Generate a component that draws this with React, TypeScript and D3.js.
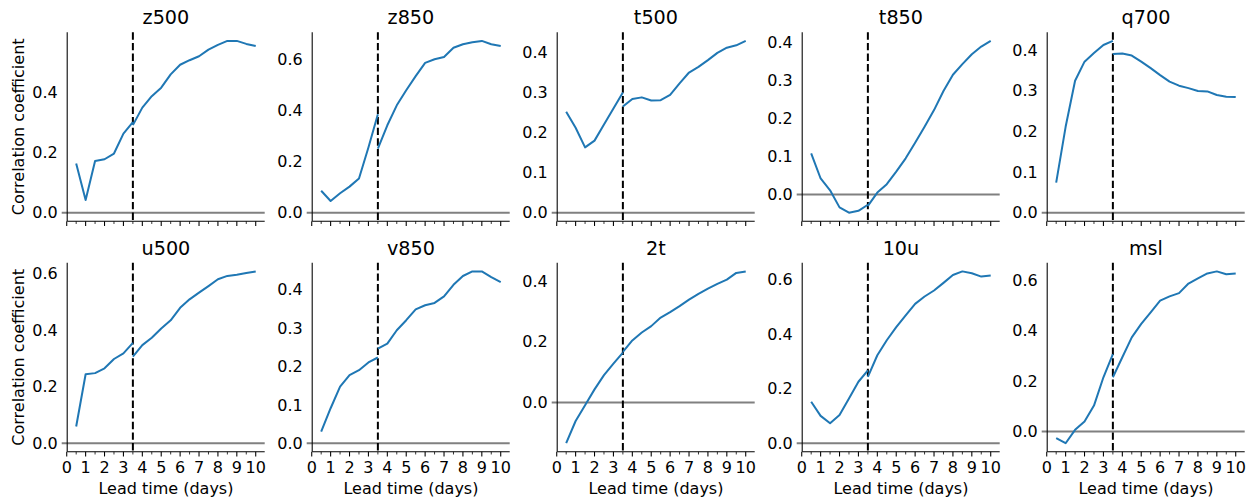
import React from 'react';
import * as d3 from 'd3';

// ---- data ----
const leadPre = [0.5, 1, 1.5, 2, 2.5, 3, 3.5];
const leadPost = [3.5, 4, 4.5, 5, 5.5, 6, 6.5, 7, 7.5, 8, 8.5, 9, 9.5, 10];
const xTicks = [0, 1, 2, 3, 4, 5, 6, 7, 8, 9, 10];
const xMinorTicks = [0.5, 1.5, 2.5, 3.5, 4.5, 5.5, 6.5, 7.5, 8.5, 9.5];
const splitLead = 3.5;

const variables = ['z500', 'z850', 't500', 't850', 'q700', 'u500', 'v850', '2t', '10u', 'msl'];

const z500Pre = [0.163, 0.042, 0.171, 0.177, 0.196, 0.262, 0.3];
const z500Post = [0.29, 0.348, 0.386, 0.414, 0.458, 0.49, 0.505, 0.518, 0.54, 0.556, 0.569, 0.569, 0.559, 0.552];
const z850Pre = [0.086, 0.046, 0.076, 0.102, 0.134, 0.255, 0.385];
const z850Post = [0.251, 0.342, 0.42, 0.479, 0.534, 0.586, 0.6, 0.609, 0.645, 0.659, 0.667, 0.672, 0.659, 0.652];
const t500Pre = [0.252, 0.212, 0.163, 0.18, 0.22, 0.26, 0.3];
const t500Post = [0.265, 0.284, 0.288, 0.28, 0.281, 0.294, 0.323, 0.35, 0.364, 0.381, 0.399, 0.412, 0.418, 0.429];
const t850Pre = [0.108, 0.042, 0.011, -0.034, -0.048, -0.043, -0.027];
const t850Post = [-0.03, 0.005, 0.027, 0.06, 0.095, 0.136, 0.178, 0.222, 0.272, 0.315, 0.343, 0.369, 0.389, 0.404];
const q700Pre = [0.074, 0.211, 0.324, 0.371, 0.392, 0.412, 0.422];
const q700Post = [0.39, 0.391, 0.386, 0.371, 0.355, 0.338, 0.322, 0.312, 0.306, 0.299, 0.298, 0.289, 0.285, 0.284];
const u500Pre = [0.059, 0.244, 0.248, 0.265, 0.298, 0.318, 0.355];
const u500Post = [0.306, 0.347, 0.373, 0.406, 0.435, 0.479, 0.509, 0.533, 0.556, 0.58, 0.592, 0.596, 0.602, 0.608];
const v850Pre = [0.03, 0.091, 0.147, 0.177, 0.19, 0.21, 0.223];
const v850Post = [0.246, 0.259, 0.294, 0.32, 0.348, 0.359, 0.365, 0.382, 0.412, 0.435, 0.447, 0.447, 0.432, 0.419];
const t2mPre = [-0.134, -0.061, -0.009, 0.043, 0.09, 0.128, 0.164];
const t2mPost = [0.166, 0.204, 0.23, 0.251, 0.279, 0.297, 0.317, 0.338, 0.357, 0.374, 0.39, 0.404, 0.426, 0.431];
const u10Pre = [0.152, 0.1, 0.073, 0.103, 0.164, 0.225, 0.267];
const u10Post = [0.243, 0.322, 0.377, 0.425, 0.468, 0.51, 0.537, 0.559, 0.587, 0.616, 0.629, 0.622, 0.61, 0.614];
const mslPre = [-0.026, -0.046, 0.007, 0.04, 0.103, 0.215, 0.307];
const mslPost = [0.215, 0.294, 0.373, 0.426, 0.472, 0.518, 0.535, 0.548, 0.586, 0.606, 0.626, 0.634, 0.623, 0.626];

const preSeries = [z500Pre, z850Pre, t500Pre, t850Pre, q700Pre, u500Pre, v850Pre, t2mPre, u10Pre, mslPre];
const postSeries = [z500Post, z850Post, t500Post, t850Post, q700Post, u500Post, v850Post, t2mPost, u10Post, mslPost];

const yTicksStep2 = [0, 0.2, 0.4];
const yTicksStep2b = [0, 0.2, 0.4, 0.6];
const yTicksStep1 = [0, 0.1, 0.2, 0.3, 0.4];
const yTickSets = [yTicksStep2, yTicksStep2b, yTicksStep1, yTicksStep1, yTicksStep1, yTicksStep2b, yTicksStep1, yTicksStep2, yTicksStep2b, yTicksStep2b];

const xLabel = 'Lead time (days)';
const yLabel = 'Correlation coefficient';

// ---- layout ----
const W = 1253;
const H = 499;
const FONT = 'DejaVu Sans, Verdana, sans-serif';
const TICK_FS = 16;
const TITLE_FS = 19.2;
const colLeft = 67.2;
const colStep = 245;
const axW = 197.5;
const rowTops = [32.3, 262.8];
const axH = 189;
const xDomain: [number, number] = [0.025, 10.475];
const BLUE = '#1f77b4';
const LW = 2;

function Panel({ idx }: { idx: number }) {
  const col = idx % 5;
  const row = Math.floor(idx / 5);
  const left = colLeft + col * colStep;
  const top = rowTops[row];
  const bottom = top + axH;
  const pre = preSeries[idx];
  const post = postSeries[idx];
  const all = [0, ...pre, ...post];
  const lo = d3.min(all) as number;
  const hi = d3.max(all) as number;
  const pad = (hi - lo) * 0.05;
  const x = d3.scaleLinear().domain(xDomain).range([left, left + axW]);
  const y = d3.scaleLinear().domain([lo - pad, hi + pad]).range([bottom, top]);
  const line = d3
    .line<[number, number]>()
    .x((d) => x(d[0]))
    .y((d) => y(d[1]));
  const prePts = leadPre.map((l, i) => [l, pre[i]] as [number, number]);
  const postPts = leadPost.map((l, i) => [l, post[i]] as [number, number]);
  const showXLabels = row === 1;
  const fmt = d3.format('.1f');
  return (
    <g>
      {/* zero line */}
      <line x1={left - 5.5} x2={left + axW} y1={y(0)} y2={y(0)} stroke="#808080" strokeWidth={LW} />
      {/* split line */}
      <line
        x1={x(splitLead)}
        x2={x(splitLead)}
        y1={top}
        y2={bottom}
        stroke="#000"
        strokeWidth={LW}
        strokeDasharray="7.4,3.2"
      />
      <path d={line(prePts) || ''} fill="none" stroke={BLUE} strokeWidth={LW} strokeLinejoin="round" strokeLinecap="butt" />
      <path d={line(postPts) || ''} fill="none" stroke={BLUE} strokeWidth={LW} strokeLinejoin="round" strokeLinecap="butt" />
      {/* spines */}
      <line x1={left} x2={left} y1={top} y2={bottom} stroke="#000" strokeWidth={1.07} />
      <line x1={left} x2={left + axW} y1={bottom} y2={bottom} stroke="#000" strokeWidth={1.07} />
      {/* x ticks */}
      {xTicks.map((t) => (
        <line key={'M' + t} x1={x(t)} x2={x(t)} y1={bottom} y2={bottom + 4.67} stroke="#000" strokeWidth={1.07} />
      ))}
      {xMinorTicks.map((t) => (
        <line key={'m' + t} x1={x(t)} x2={x(t)} y1={bottom} y2={bottom + 2.67} stroke="#000" strokeWidth={0.8} />
      ))}
      {showXLabels &&
        xTicks.map((t) => (
          <text key={'l' + t} x={x(t)} y={bottom + 21} textAnchor="middle" fontSize={TICK_FS} fontFamily={FONT} fill="#000">
            {t}
          </text>
        ))}
      {showXLabels && (
        <text x={left + axW / 2} y={bottom + 42.3} textAnchor="middle" fontSize={TICK_FS} fontFamily={FONT} fill="#000">
          {xLabel}
        </text>
      )}
      {/* y tick labels */}
      {yTickSets[idx].map((t) => (
        <text
          key={'y' + t}
          x={left - 9.4}
          y={y(t)}
          dy="0.36em"
          textAnchor="end"
          fontSize={TICK_FS}
          fontFamily={FONT}
          fill="#000"
        >
          {fmt(t)}
        </text>
      ))}
      {col === 0 && (
        <text
          transform={`translate(${18.3},${(top + bottom) / 2}) rotate(-90)`}
          textAnchor="middle"
          dy="0.36em"
          fontSize={TICK_FS}
          fontFamily={FONT}
          fill="#000"
        >
          {yLabel}
        </text>
      )}
      <text x={left + axW / 2} y={top - 8} textAnchor="middle" fontSize={TITLE_FS} fontFamily={FONT} fill="#000">
        {variables[idx]}
      </text>
    </g>
  );
}

export default function App() {
  return (
    <svg
      width={W}
      height={H}
      viewBox={`0 0 ${W} ${H}`}
      style={{ position: 'absolute', left: 0, top: 0, background: '#fff' }}
    >
      <rect x={0} y={0} width={W} height={H} fill="#fff" />
      {variables.map((_, i) => (
        <Panel key={i} idx={i} />
      ))}
    </svg>
  );
}
